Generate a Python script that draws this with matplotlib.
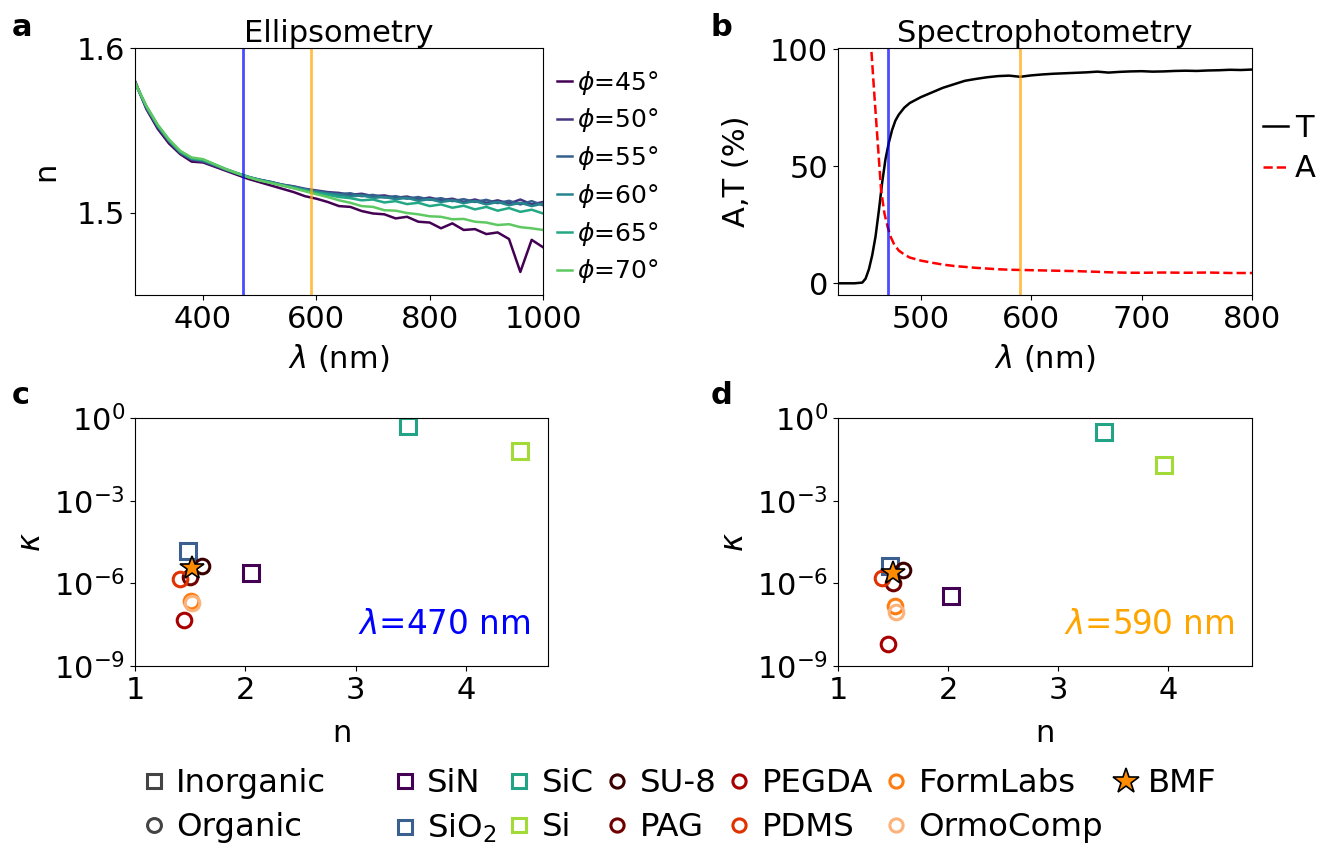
import numpy as np
import matplotlib
matplotlib.use("Agg")
import matplotlib.pyplot as plt
from matplotlib.lines import Line2D
from matplotlib.ticker import NullLocator

# ---------------- data ----------------
# (a) ellipsometry: refractive index n vs wavelength for several angles
wl_ell = np.arange(280, 1001, 20)
angles = [45, 50, 55, 60, 65, 70]
n_45 = [1.580, 1.563, 1.551, 1.542, 1.5355, 1.531, 1.5305, 1.528, 1.5255, 1.523, 1.5205, 1.5185,
        1.5165, 1.5145, 1.5125, 1.5100, 1.5085, 1.5065, 1.5040, 1.5035, 1.5010, 1.4995, 1.4990,
        1.4965, 1.4975, 1.4945, 1.4940, 1.4905, 1.4935, 1.4895, 1.4900, 1.4870, 1.4880, 1.4840,
        1.4640, 1.4835, 1.4790]
n_50 = [1.5795, 1.5635, 1.552, 1.543, 1.536, 1.532, 1.531, 1.5285, 1.526, 1.5237, 1.5215, 1.520,
        1.5185, 1.517, 1.516, 1.5145, 1.5135, 1.5125, 1.5120, 1.5108, 1.5115, 1.5100, 1.5105,
        1.5090, 1.5098, 1.5080, 1.5092, 1.5075, 1.5085, 1.5065, 1.5080, 1.5060, 1.5075, 1.5055,
        1.5080, 1.5050, 1.5065]
n_55 = [1.5790, 1.5640, 1.5525, 1.5435, 1.5365, 1.5325, 1.5315, 1.5290, 1.5262, 1.5238, 1.5217,
        1.5200, 1.5187, 1.5170, 1.5158, 1.5142, 1.5130, 1.5120, 1.5112, 1.5118, 1.5100, 1.5108,
        1.5092, 1.5100, 1.5085, 1.5095, 1.5078, 1.5088, 1.5070, 1.5082, 1.5065, 1.5078, 1.5058,
        1.5072, 1.5050, 1.5070, 1.5045]
n_60 = [1.5788, 1.5642, 1.5528, 1.5438, 1.5368, 1.5328, 1.5318, 1.5292, 1.5264, 1.5240, 1.5218,
        1.5198, 1.5184, 1.5168, 1.5155, 1.5140, 1.5128, 1.5115, 1.5108, 1.5098, 1.5105, 1.5090,
        1.5095, 1.5082, 1.5090, 1.5072, 1.5082, 1.5065, 1.5075, 1.5058, 1.5070, 1.5050, 1.5065,
        1.5045, 1.5060, 1.5040, 1.5055]
n_65 = [1.5790, 1.5645, 1.5530, 1.5440, 1.5370, 1.5330, 1.5320, 1.5293, 1.5265, 1.5240, 1.5217,
        1.5197, 1.5182, 1.5165, 1.5150, 1.5135, 1.5120, 1.5108, 1.5095, 1.5088, 1.5075, 1.5080,
        1.5062, 1.5070, 1.5052, 1.5060, 1.5040, 1.5050, 1.5030, 1.5042, 1.5020, 1.5035, 1.5012,
        1.5028, 1.5005, 1.5018, 1.4995]
n_70 = [1.579, 1.565, 1.5535, 1.5445, 1.5375, 1.5335, 1.5325, 1.5295, 1.5265, 1.524, 1.5215, 1.5195,
        1.518, 1.5165, 1.5148, 1.5130, 1.5112, 1.5095, 1.5075, 1.5060, 1.5040, 1.5035, 1.5015,
        1.5012, 1.4998, 1.4990, 1.4978, 1.4975, 1.4960, 1.4962, 1.4945, 1.4940, 1.4925, 1.4930,
        1.4912, 1.4905, 1.4895]
n_series = [n_45, n_50, n_55, n_60, n_65, n_70]

# (b) spectrophotometry
wl_T = [425, 440, 447, 450, 453, 456, 459, 462, 465, 468, 471, 474, 477, 480, 485, 490, 500, 510,
        520, 530, 540, 550, 560, 570, 580, 590, 600, 610, 620, 630, 640, 650, 660, 670, 680, 690,
        700, 710, 720, 730, 740, 750, 760, 770, 780, 790, 800]
T_pct = [0, 0, 0.3, 2, 6, 12, 20, 31, 43, 53, 60, 65.5, 69.5, 72, 75, 77, 79.5, 81.5, 83.5, 85,
         86.5, 87.3, 88, 88.5, 88.7, 88.2, 88.8, 89.2, 89.5, 89.7, 89.9, 90.1, 90.4, 90.0, 90.3,
         90.5, 90.6, 90.4, 90.5, 90.7, 90.8, 90.7, 90.9, 91.0, 91.2, 91.1, 91.3]
wl_A = [452, 455, 458, 461, 464, 467, 470, 473, 476, 480, 485, 490, 500, 510, 520, 530, 540, 550,
        560, 570, 580, 590, 600, 620, 640, 660, 670, 680, 690, 700, 720, 740, 760, 780, 800]
A_pct = [125, 101, 80, 60, 40, 30, 24, 19.5, 16.5, 14, 12.3, 11, 9.7, 8.8, 8, 7.4, 7, 6.6, 6.3, 6,
         5.8, 5.7, 5.6, 5.4, 5.2, 4.9, 4.7, 4.6, 4.5, 4.5, 4.6, 4.5, 4.6, 4.4, 4.4]

# (c, d) materials: n and kappa at 470 nm and 590 nm
materials = ["SiN", "SiO$_2$", "SiC", "Si", "SU-8", "PAG", "PEGDA", "PDMS", "FormLabs", "OrmoComp", "BMF"]
kinds = ["inorg", "inorg", "inorg", "inorg", "org", "org", "org", "org", "org", "org", "bmf"]
n_470 = [2.049, 1.478, 3.472, 4.484, 1.605, 1.499, 1.447, 1.408, 1.51, 1.52, 1.514]
k_470 = [2.45e-6, 1.54e-5, 0.50, 0.065, 4.1e-6, 1.75e-6, 4.7e-8, 1.45e-6, 2.2e-7, 2.0e-7, 3.5e-6]
n_590 = [2.027, 1.473, 3.418, 3.964, 1.594, 1.503, 1.452, 1.397, 1.518, 1.524, 1.503]
k_590 = [3.6e-7, 4.4e-6, 0.30, 0.0197, 3.06e-6, 1.0e-6, 6.2e-9, 1.53e-6, 1.55e-7, 9.4e-8, 2.3e-6]

mat_colors = ["#440154", "#3b5f8f", "#22a385", "#a2da37",
              "#3a0000", "#700000", "#a80000", "#e03200", "#ff7c10", "#fdb27a", "#ff8c00"]

# ---------------- figure ----------------
FS = 22
plt.rcParams["font.size"] = FS
fig = plt.figure(figsize=(13.18, 8.49), dpi=100)

W, H = 1318.0, 849.0
def box(l, t, r, b):
    return [l / W, 1 - b / H, (r - l) / W, (b - t) / H]

ax_a = fig.add_axes(box(135, 48, 543, 295))
ax_b = fig.add_axes(box(838, 48, 1252, 295))
ax_c = fig.add_axes(box(135, 418, 548, 666))
ax_d = fig.add_axes(box(838, 418, 1252, 666))

# (a)
cols = plt.cm.viridis(np.linspace(0, 0.75, 6))
for ang, ns, c in zip(angles, n_series, cols):
    ax_a.plot(wl_ell, ns, color=c, lw=1.8, label=r"$\phi$=%d°" % ang)
ax_a.axvline(470, color="blue", alpha=0.7, lw=2)
ax_a.axvline(590, color="orange", alpha=0.7, lw=2)
ax_a.set_xlim(280, 1000)
ax_a.set_ylim(1.45, 1.6)
ax_a.set_yticks([1.5, 1.6])
ax_a.set_xticks([400, 600, 800, 1000])
ax_a.set_xlabel(r"$\lambda$ (nm)", labelpad=6)
ax_a.set_ylabel("n", labelpad=12)
ax_a.set_title("Ellipsometry", fontsize=FS, pad=4)
ax_a.legend(loc="center left", bbox_to_anchor=(1.034, 0.478), frameon=False, fontsize=18,
            handlelength=0.6, handletextpad=0.2, labelspacing=0.39, borderpad=0, borderaxespad=0)

# (b)
ax_b.plot(wl_T, T_pct, color="black", lw=1.8, label="T")
ax_b.plot(wl_A, A_pct, color="red", lw=1.8, ls="--", label="A")
ax_b.axvline(470, color="blue", alpha=0.7, lw=2)
ax_b.axvline(590, color="orange", alpha=0.7, lw=2)
ax_b.set_xlim(425, 800)
ax_b.set_ylim(-5, 100.5)
ax_b.set_yticks([0, 50, 100])
ax_b.set_xticks([500, 600, 700, 800])
ax_b.set_xlabel(r"$\lambda$ (nm)", labelpad=6)
ax_b.set_ylabel("A,T (%)", labelpad=14)
ax_b.set_title("Spectrophotometry", fontsize=FS, pad=4)
ax_b.legend(loc="center left", bbox_to_anchor=(1.027, 0.593), frameon=False, fontsize=FS,
            handlelength=0.8, handletextpad=0.25, labelspacing=0.38, borderpad=0, borderaxespad=0)

# (c, d)
def scatter_panel(ax, ns, ks, text, tcolor, xmax):
    for name, kind, x, k, c in zip(materials, kinds, ns, ks, mat_colors):
        if kind == "inorg":
            ax.plot([x], [k], ls="none", marker="s", ms=11, mfc="none", mec=c, mew=2.2)
        elif kind == "org":
            ax.plot([x], [k], ls="none", marker="o", ms=10.5, mfc="none", mec=c, mew=2.2)
    for name, kind, x, k, c in zip(materials, kinds, ns, ks, mat_colors):
        if kind == "bmf":
            ax.plot([x], [k], ls="none", marker="*", ms=18, mfc=c, mec="black", mew=1.2)
    ax.set_yscale("log")
    ax.set_ylim(1e-9, 1)
    ax.set_xlim(1, xmax)
    ax.set_yticks([1e-9, 1e-6, 1e-3, 1])
    ax.set_yticklabels([r"$10^{-9}$", r"$10^{-6}$", r"$10^{-3}$", r"$10^{0}$"])
    ax.yaxis.set_minor_locator(NullLocator())
    ax.set_xticks([1, 2, 3, 4])
    ax.set_xlabel("n", labelpad=10)
    ax.set_ylabel(r"$\kappa$", labelpad=6)
    ax.text(0.957, 0.1, text, transform=ax.transAxes, ha="right", va="bottom", color=tcolor, fontsize=23.5)

scatter_panel(ax_c, n_470, k_470, r"$\lambda$=470 nm", "blue", 4.74)
scatter_panel(ax_d, n_590, k_590, r"$\lambda$=590 nm", "orange", 4.76)

# panel letters
for lbl, x, y in [("a", 12, 28), ("b", 711, 28), ("c", 12, 396), ("d", 711, 396)]:
    fig.text(x / W, 1 - y / H, lbl, fontsize=FS, fontweight="bold", ha="left", va="center")

# bottom legends
LFS = 23.3
TOP = 768
h_type = [Line2D([], [], ls="none", marker="s", ms=10, mfc="none", mec="#444444", mew=2.2),
          Line2D([], [], ls="none", marker="o", ms=10, mfc="none", mec="#444444", mew=2.2)]
fig.legend(h_type, ["Inorganic", "Organic"], loc="upper left", bbox_to_anchor=(144 / W, 1 - TOP / H),
           ncol=1, frameon=False, fontsize=LFS, handlelength=0.6, handletextpad=0.4,
           labelspacing=0.4, borderpad=0, borderaxespad=0)

handles, labels = [], []
for name, kind, c in zip(materials, kinds, mat_colors):
    if kind == "inorg":
        handles.append(Line2D([], [], ls="none", marker="s", ms=10, mfc="none", mec=c, mew=2.2))
    elif kind == "org":
        handles.append(Line2D([], [], ls="none", marker="o", ms=9.5, mfc="none", mec=c, mew=2.2))
    else:
        handles.append(Line2D([], [], ls="none", marker="*", ms=19, mfc=c, mec="black", mew=1.2))
    labels.append(name)
fig.legend(handles, labels, loc="upper left", bbox_to_anchor=(395 / W, 1 - TOP / H), ncol=6,
           frameon=False, fontsize=LFS, handlelength=0.6, handletextpad=0.4, columnspacing=0.4,
           labelspacing=0.4, borderpad=0, borderaxespad=0)

fig.savefig("out.png", dpi=100)
